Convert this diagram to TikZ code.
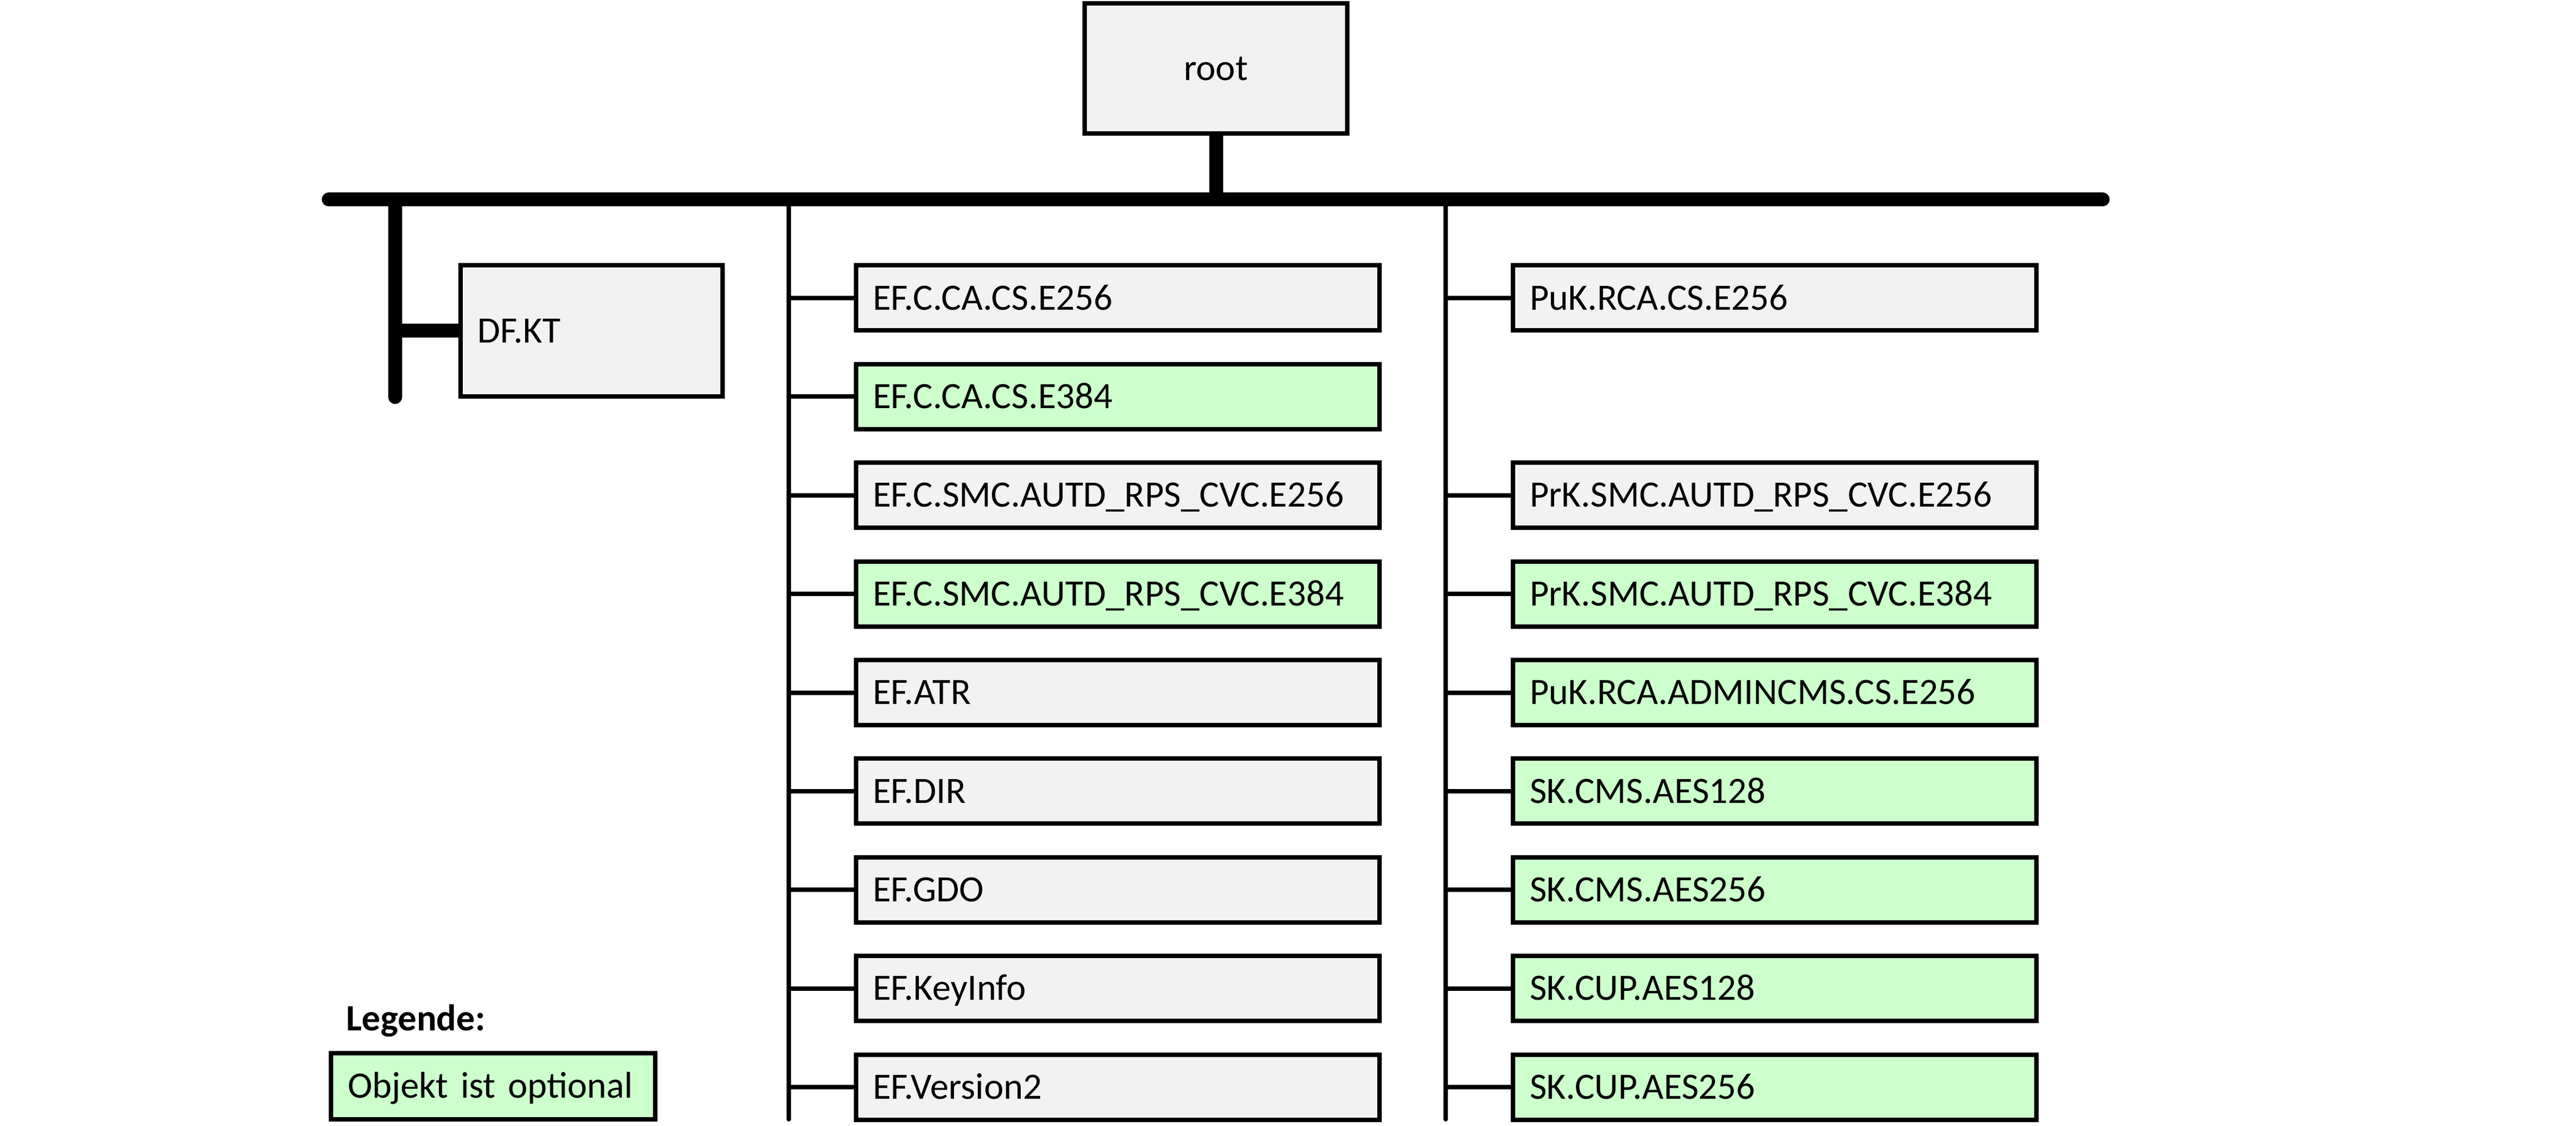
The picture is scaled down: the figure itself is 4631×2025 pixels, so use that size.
\documentclass[tikz,border=0pt]{standalone}
\usepackage{fontspec}
\setmainfont{Carlito}
\usetikzlibrary{positioning}
\definecolor{boxgrey}{HTML}{F2F2F2}
\definecolor{optgreen}{HTML}{CCFFCC}
\tikzset{
  obj/.style={rectangle, draw=black, line width=0.8mm, fill=boxgrey, font=\fontsize{19pt}{23pt}\selectfont, text height=12pt, text depth=0pt, inner xsep=3mm, align=left},
  file/.style={obj, text width=88.1mm, minimum height=11.7mm, node distance=5.24mm},
  opt/.style={fill=optgreen},
  trunk/.style={line width=2.5mm, line cap=round},
  twig/.style={line width=0.8mm}
}

\begin{document}
\begin{tikzpicture}[x=0.1mm, y=-0.1mm]
  \useasboundingbox (0,0) rectangle (4631,2025);
  \node[obj, align=center, minimum width=47.2mm, minimum height=23.4mm] (root) at (2186,123) {root};
  \node[obj, text width=41.1mm, minimum height=23.6mm] (dfkt) at (1063.5,595) {DF.KT};

  \node[file] (m1) at (2009.5,536) {EF.C.CA.CS.E256};
  \node[file,opt] (m2) [below=of m1] {EF.C.CA.CS.E384};
  \node[file] (m3) [below=of m2] {EF.C.SMC.AUTD\_RPS\_CVC.E256};
  \node[file,opt] (m4) [below=of m3] {EF.C.SMC.AUTD\_RPS\_CVC.E384};
  \node[file] (m5) [below=of m4] {EF.ATR};
  \node[file] (m6) [below=of m5] {EF.DIR};
  \node[file] (m7) [below=of m6] {EF.GDO};
  \node[file] (m8) [below=of m7] {EF.KeyInfo};
  \node[file] (m9) [below=of m8] {EF.Version2};

  \node[file] (r1) [right=23.2mm of m1] {PuK.RCA.CS.E256};
  \node[file] (r3) [right=23.2mm of m3] {PrK.SMC.AUTD\_RPS\_CVC.E256};
  \node[file,opt] (r4) [right=23.2mm of m4] {PrK.SMC.AUTD\_RPS\_CVC.E384};
  \node[file,opt] (r5) [right=23.2mm of m5] {PuK.RCA.ADMINCMS.CS.E256};
  \node[file,opt] (r6) [right=23.2mm of m6] {SK.CMS.AES128};
  \node[file,opt] (r7) [right=23.2mm of m7] {SK.CMS.AES256};
  \node[file,opt] (r8) [right=23.2mm of m8] {SK.CUP.AES128};
  \node[file,opt] (r9) [right=23.2mm of m9] {SK.CUP.AES256};

  % legend
  \node[font=\bfseries\fontsize{19pt}{23pt}\selectfont, anchor=base west, inner sep=0pt] (legtitle) at (622,1853) {Legende:};
  \node[obj, opt, text width=52.3mm, minimum height=11.9mm] (legend) at (886.5,1953.5) {Objekt ist optional};

  \coordinate (busL) at (591,359);
  \coordinate (busR) at (3780,359);
  \coordinate (dfend) at (710,714);
  \coordinate (midend) at (1418,2013);
  \coordinate (rgtend) at (2599,2013);

  \draw[line width=2.5mm] (root.south) -- (root.south |- busL);
  \draw[trunk] (dfend |- busL) -- (dfend);
  \draw[line width=2.5mm] (dfend |- dfkt.west) -- (dfkt.west);
  \draw[twig, line cap=round] (midend |- busL) -- (midend);
  \draw[twig, line cap=round] (rgtend |- busL) -- (rgtend);
  \draw[trunk] (busL) -- (busR);

  \path (midend |- m1.west) edge [twig] (m1.west)
        (midend |- m2.west) edge [twig] (m2.west)
        (midend |- m3.west) edge [twig] (m3.west)
        (midend |- m4.west) edge [twig] (m4.west)
        (midend |- m5.west) edge [twig] (m5.west)
        (midend |- m6.west) edge [twig] (m6.west)
        (midend |- m7.west) edge [twig] (m7.west)
        (midend |- m8.west) edge [twig] (m8.west)
        (midend |- m9.west) edge [twig] (m9.west);
  \path (rgtend |- r1.west) edge [twig] (r1.west)
        (rgtend |- r3.west) edge [twig] (r3.west)
        (rgtend |- r4.west) edge [twig] (r4.west)
        (rgtend |- r5.west) edge [twig] (r5.west)
        (rgtend |- r6.west) edge [twig] (r6.west)
        (rgtend |- r7.west) edge [twig] (r7.west)
        (rgtend |- r8.west) edge [twig] (r8.west)
        (rgtend |- r9.west) edge [twig] (r9.west);

\end{tikzpicture}
\end{document}
